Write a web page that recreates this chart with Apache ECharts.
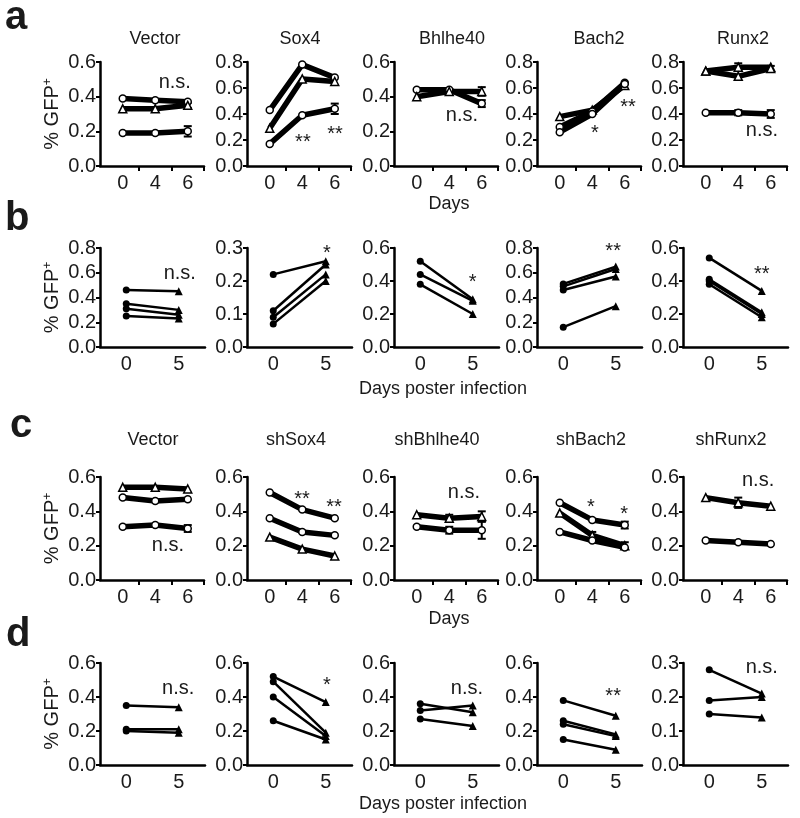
<!DOCTYPE html>
<html><head><meta charset="utf-8">
<script src="https://cdn.jsdelivr.net/npm/echarts@6/dist/echarts.min.js"></script>
<style>html,body{margin:0;padding:0;background:#fff}#c{width:800px;height:818px}</style>
</head><body><div id="c"></div>
<script>
// ---------------- DATA ----------------
const daysA = ['0', '4', '6'];
const daysB = ['0', '5'];
const titlesA = ['Vector', 'Sox4', 'Bhlhe40', 'Bach2', 'Runx2'];
const titlesC = ['Vector', 'shSox4', 'shBhlhe40', 'shBach2', 'shRunx2'];
const yMaxA = [0.6, 0.8, 0.6, 0.8, 0.8];
const yMaxB = [0.8, 0.3, 0.6, 0.8, 0.6];
const yMaxC = [0.6, 0.6, 0.6, 0.6, 0.6];
const yMaxD = [0.6, 0.6, 0.6, 0.6, 0.3];

// row a: [marker, values at day 0, 4, 6]
const aVector  = [['circle', [0.39, 0.38, 0.37]], ['triangle', [0.33, 0.33, 0.35]], ['circle', [0.19, 0.19, 0.20]]];
const aSox4    = [['circle', [0.43, 0.78, 0.68]], ['triangle', [0.29, 0.67, 0.65]], ['circle', [0.17, 0.39, 0.44]]];
const aBhlhe40 = [['circle', [0.44, 0.44, 0.36]], ['triangle', [0.40, 0.43, 0.43]]];
const aBach2   = [['triangle', [0.38, 0.43, 0.62]], ['circle', [0.30, 0.42, 0.64]], ['circle', [0.26, 0.40, 0.63]]];
const aRunx2   = [['triangle', [0.73, 0.76, 0.76]], ['triangle', [0.73, 0.69, 0.75]], ['circle', [0.41, 0.41, 0.40]]];
// error bars: [line index, day index, half range]
const aVectorErr = [[2, 2, 0.03], [1, 2, 0.015]];
const aSox4Err = [[2, 2, 0.04]];
const aBhlhe40Err = [[1, 2, 0.025], [0, 2, 0.02]];
const aBach2Err = [];
const aRunx2Err = [[0, 1, 0.03], [2, 1, 0.02], [2, 2, 0.03], [1, 2, 0.02]];

// row b: [day 0, day 5]
const bVector  = [[0.46, 0.45], [0.35, 0.30], [0.31, 0.26], [0.25, 0.23]];
const bSox4    = [[0.22, 0.26], [0.11, 0.25], [0.09, 0.22], [0.07, 0.20]];
const bBhlhe40 = [[0.52, 0.29], [0.44, 0.28], [0.38, 0.20]];
const bBach2   = [[0.51, 0.65], [0.49, 0.63], [0.46, 0.57], [0.16, 0.33]];
const bRunx2   = [[0.54, 0.34], [0.41, 0.21], [0.40, 0.20], [0.38, 0.18]];

// row c
const cVector  = [['triangle', [0.54, 0.54, 0.53]], ['circle', [0.48, 0.46, 0.47]], ['circle', [0.31, 0.32, 0.30]]];
const cSox4    = [['circle', [0.51, 0.41, 0.36]], ['circle', [0.36, 0.28, 0.26]], ['triangle', [0.25, 0.18, 0.14]]];
const cBhlhe40 = [['triangle', [0.38, 0.36, 0.37]], ['circle', [0.31, 0.29, 0.29]]];
const cBach2   = [['circle', [0.45, 0.35, 0.32]], ['triangle', [0.39, 0.26, 0.20]], ['circle', [0.28, 0.23, 0.19]]];
const cRunx2   = [['triangle', [0.48, 0.45, 0.43]], ['circle', [0.23, 0.22, 0.21]]];
const cVectorErr = [[2, 2, 0.02]];
const cSox4Err = [];
const cBhlhe40Err = [[0, 2, 0.03], [1, 2, 0.05], [1, 1, 0.02], [0, 1, 0.02]];
const cBach2Err = [[1, 1, 0.02], [0, 2, 0.02], [1, 2, 0.02]];
const cRunx2Err = [[0, 1, 0.03]];

// row d
const dVector  = [[0.35, 0.34], [0.21, 0.21], [0.20, 0.19]];
const dSox4    = [[0.52, 0.37], [0.49, 0.19], [0.40, 0.17], [0.26, 0.15]];
const dBhlhe40 = [[0.36, 0.31], [0.32, 0.35], [0.27, 0.23]];
const dBach2   = [[0.38, 0.29], [0.26, 0.18], [0.24, 0.17], [0.15, 0.09]];
const dRunx2   = [[0.28, 0.21], [0.19, 0.20], [0.15, 0.14]];

// significance annotations: [x (day index), y (value), text]
const annA = [[[1.6, 0.47, 'n.s.']], [[1.02, 0.22, '**'], [2.01, 0.28, '**']], [[1.39, 0.28, 'n.s.']], [[1.08, 0.29, '*'], [2.1, 0.49, '**']], [[1.73, 0.26, 'n.s.']]];
const annB = [[[1.02, 0.58, 'n.s.']], [[1.02, 0.30, '*']], [[1.0, 0.42, '*']], [[0.95, 0.81, '**']], [[1.0, 0.47, '**']]];
const annC = [[[1.39, 0.19, 'n.s.']], [[0.99, 0.50, '**'], [1.98, 0.45, '**']], [[1.45, 0.50, 'n.s.']], [[0.96, 0.45, '*'], [1.98, 0.41, '*']], [[1.61, 0.57, 'n.s.']]];
const annD = [[[0.99, 0.44, 'n.s.']], [[1.02, 0.50, '*']], [[0.89, 0.44, 'n.s.']], [[0.95, 0.43, '**']], [[1.0, 0.28, 'n.s.']]];

// ---------------- LAYOUT / STYLE ----------------
const FONT = "'Liberation Sans', Arial, Helvetica, sans-serif";
const TXT = '#1a1a1a';
const colX = [100, 247, 394, 537, 683];
const rows = [
  { top: 62, h: 104, kind: 'A', cats: daysA, panels: [aVector, aSox4, aBhlhe40, aBach2, aRunx2], errs: [aVectorErr, aSox4Err, aBhlhe40Err, aBach2Err, aRunx2Err], ann: annA, ymax: yMaxA },
  { top: 248, h: 99, kind: 'B', cats: daysB, panels: [bVector, bSox4, bBhlhe40, bBach2, bRunx2], errs: [[], [], [], [], []], ann: annB, ymax: yMaxB },
  { top: 477, h: 103, kind: 'A', cats: daysA, panels: [cVector, cSox4, cBhlhe40, cBach2, cRunx2], errs: [cVectorErr, cSox4Err, cBhlhe40Err, cBach2Err, cRunx2Err], ann: annC, ymax: yMaxC },
  { top: 663, h: 102, kind: 'B', cats: daysB, panels: [dVector, dSox4, dBhlhe40, dBach2, dRunx2], errs: [[], [], [], [], []], ann: annD, ymax: yMaxD }
];

const grids = [], xAxes = [], yAxes = [], series = [];
rows.forEach((row) => {
  for (let c = 0; c < 5; c++) {
    const gi = grids.length;
    const isA = row.kind === 'A';
    grids.push({ left: colX[c], top: row.top, width: isA ? 104 : 105, height: row.h });
    xAxes.push({
      type: 'value', gridIndex: gi, min: isA ? -0.7 : -0.5, max: isA ? 2.5 : 1.5,
      axisLine: { show: true, onZero: false, lineStyle: { color: '#000', width: 2.5 } },
      axisTick: isA ? { show: true, customValues: [0.5, 1.5, 2.5], length: 5, lineStyle: { color: '#000', width: 2 } } : { show: false },
      axisLabel: { customValues: row.cats.map((_, i) => i), formatter: v => row.cats[Math.round(v)], fontSize: 20, color: TXT, fontFamily: FONT, margin: 7 },
      splitLine: { show: false }
    });
    const ymax = row.ymax[c];
    yAxes.push({
      type: 'value', gridIndex: gi, min: 0, max: ymax, interval: ymax <= 0.3 ? 0.1 : 0.2,
      axisLine: { show: true, onZero: false, lineStyle: { color: '#000', width: 2.5 } },
      axisTick: { show: true, length: 4, lineStyle: { color: '#000', width: 2 } },
      axisLabel: { formatter: v => v.toFixed(1), fontSize: 20, color: TXT, fontFamily: FONT, margin: 4 },
      splitLine: { show: false },
      name: c === 0 ? '{t|% GFP}{s|+}' : '', nameLocation: 'middle', nameRotate: 90, nameGap: 38,
      nameTextStyle: { color: TXT, fontFamily: FONT, fontSize: 20, rich: { t: { fontSize: 20, color: TXT, fontFamily: FONT }, s: { fontSize: 12, color: TXT, fontFamily: FONT, verticalAlign: 'top' } } }
    });
    // error bars
    const errs = row.errs[c];
    if (errs.length) {
      series.push({
        type: 'custom', xAxisIndex: gi, yAxisIndex: gi, silent: true, animation: false, z: 2,
        data: errs.map(([li, di, sd]) => { const v = row.panels[c][li][1][di]; return [di, v - sd, v + sd]; }),
        renderItem: (params, api) => {
          const x = api.value(0);
          const lo = api.coord([x, api.value(1)]);
          const hi = api.coord([x, api.value(2)]);
          const w = 4, st = { stroke: '#000', lineWidth: 2 };
          return { type: 'group', children: [
            { type: 'line', shape: { x1: lo[0], y1: lo[1], x2: hi[0], y2: hi[1] }, style: st },
            { type: 'line', shape: { x1: lo[0] - w, y1: lo[1], x2: lo[0] + w, y2: lo[1] }, style: st },
            { type: 'line', shape: { x1: hi[0] - w, y1: hi[1], x2: hi[0] + w, y2: hi[1] }, style: st }
          ] };
        }
      });
    }
    // lines
    row.panels[c].forEach((ln) => {
      if (isA) {
        const mk = ln[0], vals = ln[1];
        series.push({
          type: 'line', xAxisIndex: gi, yAxisIndex: gi, silent: true, animation: false, z: 3,
          data: vals.map((v, i) => [i, v]), symbol: mk, symbolSize: mk === 'triangle' ? 8 : 7, showAllSymbol: true,
          lineStyle: { color: '#000', width: 5.5 }, itemStyle: { color: '#fff', borderColor: '#000', borderWidth: 1.5 }
        });
      } else {
        series.push({
          type: 'line', xAxisIndex: gi, yAxisIndex: gi, silent: true, animation: false, z: 3,
          data: ln.map((v, i) => ({ value: [i, v], symbol: i === 0 ? 'circle' : 'triangle', symbolSize: i === 0 ? 7 : 8 })),
          showAllSymbol: true, lineStyle: { color: '#000', width: 2.5 }, itemStyle: { color: '#000' }
        });
      }
    });
    // annotations
    series.push({
      type: 'scatter', xAxisIndex: gi, yAxisIndex: gi, silent: true, animation: false, clip: false, z: 5,
      symbolSize: 1, itemStyle: { color: 'rgba(0,0,0,0)', opacity: 1 },
      data: row.ann[c].map(([x, y, t]) => ({ value: [x, y], name: t, label: { offset: [0, t.indexOf('*') >= 0 ? 5 : -2] } })),
      label: { show: true, position: 'inside', formatter: p => p.name, fontSize: 20, color: TXT, opacity: 1, fontFamily: FONT }
    });
  }
});

function txt(x, y, t, size, weight, align) {
  return { type: 'text', x: x, y: y, silent: true, z: 10,
    style: { text: t, fill: TXT, font: (weight || 'normal') + ' ' + size + 'px ' + FONT,
      align: align || 'center', verticalAlign: 'middle', textAlign: align || 'center', textVerticalAlign: 'middle' } };
}
const titleXA = [155, 300, 452, 599, 743];
const titleXC = [153, 296, 437, 591, 731];
const graphics = [];
titlesA.forEach((t, i) => graphics.push(txt(titleXA[i], 39, t, 18)));
titlesC.forEach((t, i) => graphics.push(txt(titleXC[i], 440, t, 18)));
graphics.push(txt(5, 18, 'a', 40, 'bold', 'left'));
graphics.push(txt(5, 219, 'b', 40, 'bold', 'left'));
graphics.push(txt(10, 426, 'c', 40, 'bold', 'left'));
graphics.push(txt(6, 635, 'd', 40, 'bold', 'left'));
graphics.push(txt(449, 204, 'Days', 18));
graphics.push(txt(443, 389, 'Days poster infection', 18));
graphics.push(txt(449, 619, 'Days', 18));
graphics.push(txt(443, 804, 'Days poster infection', 18));

const chart = echarts.init(document.getElementById('c'), null, { renderer: 'canvas' });
chart.setOption({
  backgroundColor: '#fff', animation: false,
  grid: grids, xAxis: xAxes, yAxis: yAxes, series: series, graphic: graphics
});
</script></body></html>
